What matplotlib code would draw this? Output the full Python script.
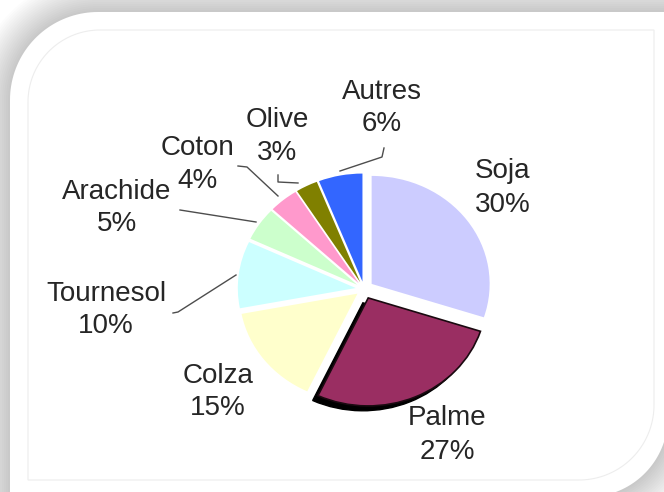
import numpy as np
import matplotlib.pyplot as plt
from matplotlib.patches import Polygon, Wedge

plt.rcParams['font.family'] = ['Liberation Sans', 'DejaVu Sans']

# world vegetable oil production by source
labels = ['Soja', 'Palme', 'Colza', 'Tournesol', 'Arachide', 'Coton', 'Olive', 'Autres']
shares = [30, 27, 15, 10, 5, 4, 3, 6]
colors = ['#ccccff', '#993366', '#ffffcc', '#ccffff', '#ccffcc', '#ff99cc',
          '#808000', '#3366ff']
explode = [0.08, 0.09, 0.07, 0.07, 0.07, 0.07, 0.07, 0.07]

# label anchors in pixels (name line, percent line), y measured downwards
label_pos = [(503, 171, 205), (447, 418, 452), (218, 376, 408),
             (106, 294, 326), (117, 192, 224), (197, 148, 181),
             (277, 120, 153), (382, 92, 124)]
leaders = [None, None, None,
           [(173, 313), (178, 312), (236, 275)],
           [(180, 210), (256, 222)],
           [(238, 166), (247, 167), (278, 196)],
           [(278, 175), (278, 182), (298, 183)],
           [(384, 148), (382, 157), (340, 171)]]

W, H = 664, 492
PIE_CX, PIE_CY, RX, RY = 364, 289, 118, 108


def panel(x0, y0, x1, y1, r1, r2):
    # rectangle with rounded top-left and bottom-right corners
    t = np.linspace(0, np.pi / 2, 40)
    tl = np.column_stack([x0 + r1 - r1 * np.cos(t), y0 + r1 - r1 * np.sin(t)])
    br = np.column_stack([x1 - r2 + r2 * np.cos(t), y1 - r2 + r2 * np.sin(t)])
    return np.vstack([[x0, y1], tl, [x1, y0], br])


fig = plt.figure(figsize=(W / 100, H / 100), dpi=100, facecolor='white')
ax = fig.add_axes([0, 0, 1, 1])
ax.set_xlim(0, W)
ax.set_ylim(H, 0)
ax.axis('off')

outer = panel(10, 12, 668, 497, 88, 80)
for d in range(36, 0, -2):
    ax.add_patch(Polygon(outer, closed=True, fill=False, ec='black',
                         lw=2 * d * 0.72, alpha=0.012, joinstyle='round'))
ax.add_patch(Polygon(outer, closed=True, fc='white', ec='none'))
ax.add_patch(Polygon(panel(28, 30, 654, 480, 72, 75), closed=True,
                     fill=False, ec='#ededed', lw=0.8))

for (x, y1, y2), name, val in zip(label_pos, labels, shares):
    ax.text(x, y1, name, ha='center', va='center', fontsize=20, color='#262626')
    ax.text(x, y2, f'{val}%', ha='center', va='center', fontsize=20,
            color='#262626')

for pts in leaders:
    if pts is None:
        continue
    xs, ys = zip(*pts)
    ax.plot(xs, ys, color='#4d4d4d', lw=1)

axp = fig.add_axes([(PIE_CX - 1.5 * RX) / W, (H - PIE_CY - 1.5 * RY) / H,
                    3 * RX / W, 3 * RY / H])
wedges, _ = axp.pie(shares, colors=colors, startangle=90, counterclock=False,
                    explode=explode, wedgeprops=dict(linewidth=0))
axp.set_xlim(-1.5, 1.5)
axp.set_ylim(-1.5, 1.5)
axp.set_aspect('auto')
axp.axis('off')

# drop shadow under the palm slice
palme = wedges[1]
cx, cy = palme.center
axp.add_patch(Wedge((cx - 0.045, cy - 0.045), palme.r, palme.theta1,
                    palme.theta2, fc='black', ec='black', lw=1,
                    zorder=palme.get_zorder() - 0.5))
palme.set_facecolor('#9a2e62')
palme.set_edgecolor('#1a0a10')
palme.set_linewidth(1.2)

fig.savefig('out.png', dpi=100)
